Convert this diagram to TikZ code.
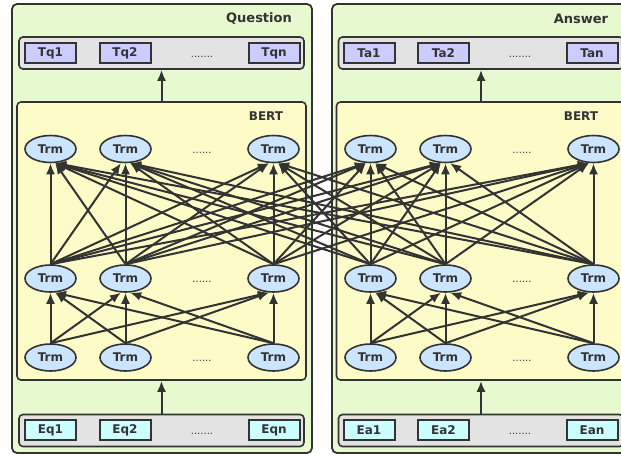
\documentclass[tikz,border=0pt]{standalone}
\usepackage{fontspec}
\setmainfont{DejaVu Sans}
\usetikzlibrary{arrows.meta,shapes.geometric}
\definecolor{panelgreen}{HTML}{E6F9CF}
\definecolor{bertyellow}{HTML}{FDFCC9}
\definecolor{bargray}{HTML}{E3E3E3}
\definecolor{tboxc}{HTML}{CCCCFF}
\definecolor{eboxc}{HTML}{CCFFFF}
\definecolor{trmc}{HTML}{CCE5FF}
\definecolor{ink}{HTML}{333333}
\begin{document}
\begin{tikzpicture}[x=1pt,y=-1pt,
  panel/.style={draw=ink, line width=1.8pt, fill=panelgreen, rounded corners=5pt, inner sep=0pt},
  bertbox/.style={draw=ink, line width=1.6pt, fill=bertyellow, rounded corners=4pt, inner sep=0pt, minimum width=289pt, minimum height=278pt},
  bar/.style={draw=ink, line width=1.6pt, fill=bargray, rounded corners=4pt, inner sep=0pt, minimum width=285pt, minimum height=32pt},
  lbl/.style={font=\bfseries\fontsize{12}{14}\selectfont, text=ink, inner sep=0pt},
  biglbl/.style={font=\bfseries\fontsize{13}{15}\selectfont, text=ink, inner sep=0pt},
  dotlbl/.style={font=\fontsize{10}{12}\selectfont, text=ink, inner sep=0pt},
  tbox/.style={lbl, draw=ink, line width=2pt, fill=tboxc, minimum width=51pt, minimum height=20pt},
  ebox/.style={lbl, draw=ink, line width=2pt, fill=eboxc, minimum width=51pt, minimum height=20pt},
  trm/.style={lbl, ellipse, draw=ink, line width=1.6pt, fill=trmc, minimum width=51pt, minimum height=27pt},
  arr/.style={draw=ink, line width=2pt, -{Latex[length=11pt,width=9pt]}}
]
\fill[white] (0,0) rectangle (621,456);
\clip (0,0) rectangle (621,456);
\useasboundingbox (0,0) rectangle (621,456);

% ---------- Question panel ----------
\node[panel, minimum width=300pt, minimum height=449pt] (qpanel) at (162,228.5) {};
\node[biglbl] (qlabel) at (259,19) {Question};
\node[bar] (qtop) at (161.5,53) {};
\node[tbox] (tq1) at (50.5,53) {Tq1};
\node[tbox] (tq2) at (125,53) {Tq2};
\node[tbox] (tqn) at (274,53) {Tqn};
\node[dotlbl] (qtdots) at (202,57) {.......};
\node[bertbox] (qbert) at (161.5,241) {};
\node[lbl] (qbertlabel) at (266,116) {BERT};
\node[bar] (qbot) at (161.5,430.5) {};
\node[ebox] (eq1) at (50.5,430) {Eq1};
\node[ebox] (eq2) at (125,430) {Eq2};
\node[ebox] (eqn) at (274,430) {Eqn};
\node[dotlbl] (qedots) at (202,434) {.......};
\node[trm] (qt1) at (50.5,149) {Trm};
\node[trm] (qt2) at (125.5,149) {Trm};
\node[trm] (qt3) at (273.5,149) {Trm};
\node[dotlbl] (qtd) at (202,153) {......};
\node[trm] (qm1) at (50.5,278.5) {Trm};
\node[trm] (qm2) at (125.5,278.5) {Trm};
\node[trm] (qm3) at (273.5,278.5) {Trm};
\node[dotlbl] (qmd) at (202,282) {......};
\node[trm] (qb1) at (50.5,357.5) {Trm};
\node[trm] (qb2) at (125.5,357.5) {Trm};
\node[trm] (qb3) at (273.5,357.5) {Trm};
\node[dotlbl] (qbd) at (202,361) {......};
\draw[arr] (qbert.north) -- (qtop.south);
\draw[arr] (qbot.north) -- (qbert.south);

% ---------- Answer panel ----------
\node[panel, minimum width=300pt, minimum height=449pt] (apanel) at (482,228.5) {};
\node[biglbl] (alabel) at (581,19) {Answer};
\node[bar] (atop) at (481,53) {};
\node[tbox] (ta1) at (369,53) {Ta1};
\node[tbox] (ta2) at (443.5,53) {Ta2};
\node[tbox] (tan) at (592,53) {Tan};
\node[dotlbl] (atdots) at (520,57) {.......};
\node[bertbox] (abert) at (481,241) {};
\node[lbl] (abertlabel) at (581,116) {BERT};
\node[bar] (abot) at (481,430.5) {};
\node[ebox] (ea1) at (369,430) {Ea1};
\node[ebox] (ea2) at (443.5,430) {Ea2};
\node[ebox] (ean) at (592,430) {Ean};
\node[dotlbl] (aedots) at (520,434) {.......};
\node[trm] (at1) at (370.5,149) {Trm};
\node[trm] (at2) at (445.5,149) {Trm};
\node[trm] (at3) at (593.5,149) {Trm};
\node[dotlbl] (atd) at (522,153) {......};
\node[trm] (am1) at (370.5,278.5) {Trm};
\node[trm] (am2) at (445.5,278.5) {Trm};
\node[trm] (am3) at (593.5,278.5) {Trm};
\node[dotlbl] (amd) at (522,282) {......};
\node[trm] (ab1) at (370.5,357.5) {Trm};
\node[trm] (ab2) at (445.5,357.5) {Trm};
\node[trm] (ab3) at (593.5,357.5) {Trm};
\node[dotlbl] (abd) at (522,361) {......};
\draw[arr] (abert.north) -- (atop.south);
\draw[arr] (abot.north) -- (abert.south);

% ---------- connections: lower layer (within each panel) ----------
\foreach \p in {q,a} {
  \foreach \s/\sx in {1/50.5,2/125.5,3/273.5} {
    \foreach \t/\tx in {1/50.5,2/125.5,3/273.5} {
      \pgfmathtruncatemacro\ang{-90+18*sign(\sx-\tx)}
      \draw[arr] (\p b\s.north) -- (\p m\t.\ang);
    }
  }
}
% ---------- connections: upper layer (across both panels) ----------
\foreach \s/\sx in {qm1/50.5,qm2/125.5,qm3/273.5,am1/370.5,am2/445.5,am3/593.5} {
  \foreach \t/\tx in {qt1/50.5,qt2/125.5,qt3/273.5,at1/370.5,at2/445.5,at3/593.5} {
    \pgfmathtruncatemacro\ang{-90+18*sign(\sx-\tx)}
    \draw[arr] (\s.north) -- (\t.\ang);
  }
}
\end{tikzpicture}
\end{document}
